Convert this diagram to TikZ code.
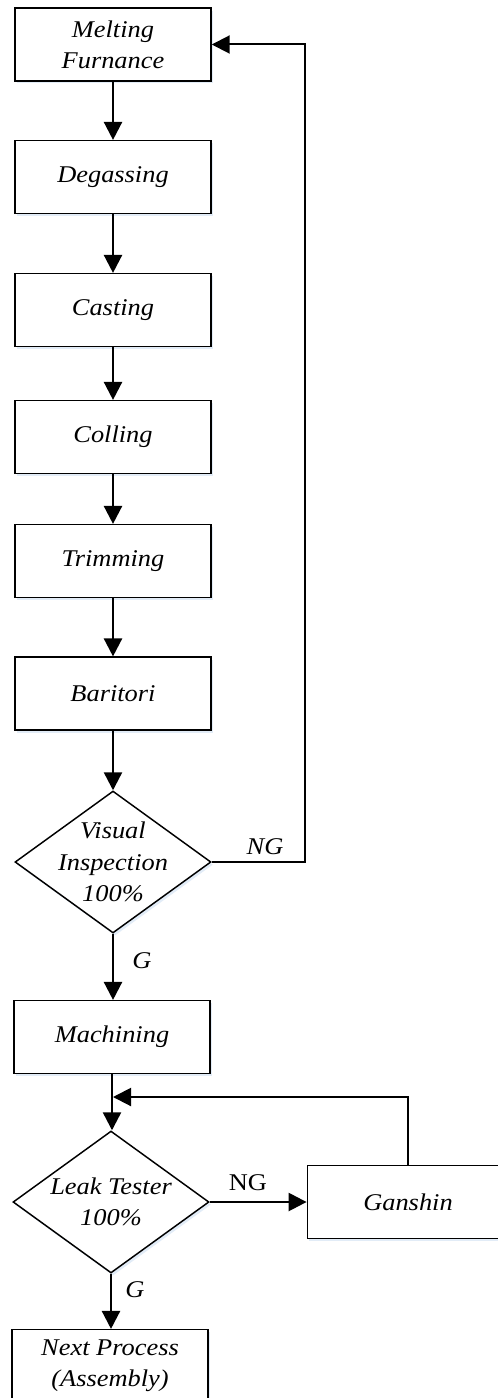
\documentclass[tikz,border=0pt]{standalone}
\usepackage{fontspec}
\setmainfont{Liberation Serif}[FakeStretch=1.1]
\usetikzlibrary{arrows.meta,shapes.geometric,shadows}

\definecolor{haze}{RGB}{214,228,244}

\tikzset{
  txt/.style={font=\fontsize{18}{23.5}\selectfont\itshape, align=center, inner sep=0pt},
  stepbox/.style={draw, line width=1.1pt, fill=white, minimum width=147pt,
    minimum height=54.5pt, inner sep=0pt, txt,
    drop shadow={shadow xshift=1.5pt, shadow yshift=-2pt, fill=haze, opacity=0.7}},
  decision/.style={draw, diamond, line width=1.1pt, fill=white, inner sep=0pt,
    minimum width=147pt, minimum height=106.5pt,
    drop shadow={shadow xshift=1.5pt, shadow yshift=-2pt, fill=haze, opacity=0.7}},
  conn/.style={line width=1.8pt, -{Triangle[length=13.5pt, width=13.5pt]}},
  tag/.style={font=\fontsize{18}{20}\selectfont\itshape, inner sep=0pt},
  uptag/.style={font=\fontsize{18}{20}\selectfont, inner sep=0pt},
}

\begin{document}
\begin{tikzpicture}[x=0.75pt, y=-0.75pt]
  \clip (0,0) rectangle (498,1398);
  \fill[white] (0,0) rectangle (498,1398);

  % main process column
  \node[stepbox] (melt) at (113,44.5)  {Melting\\Furnance};
  \node[stepbox] (degas) at (113,177)  {Degassing};
  \node[stepbox] (cast) at (113,310)   {Casting};
  \node[stepbox] (cool) at (113,437)   {Colling};
  \node[stepbox] (trim) at (113,561)   {Trimming};
  \node[stepbox] (bari) at (113,693.5) {Baritori};

  % visual inspection decision
  \node[decision] (vis) at (113,862) {};
  \node[txt] (vistext) at (vis.center) {Visual\\Inspection\\100\%};

  \node[stepbox] (mach) at (112,1037) {Machining};

  % leak test decision
  \node[decision] (leak) at (111,1202) {};
  \node[txt] (leaktext) at (leak.center) {Leak Tester\\100\%};

  \node[stepbox, minimum width=151pt] (gan) at (408,1202) {Ganshin};
  \node[stepbox] (next) at (110,1366) {Next Process\\(Assembly)};

  % flow connectors
  \draw[conn] (melt.south) -- (degas.north);
  \draw[conn] (degas.south) -- (cast.north);
  \draw[conn] (cast.south) -- (cool.north);
  \draw[conn] (cool.south) -- (trim.north);
  \draw[conn] (trim.south) -- (bari.north);
  \draw[conn] (bari.south) -- (vis.north);
  \draw[conn] (vis.south) -- (vis.south |- mach.north);
  \draw[conn] (mach.south) -- (mach.south |- leak.north);
  \draw[conn] (leak.south) -- (leak.south |- next.north);
  \draw[conn] (leak.east) -- (gan.west);

  % rework loops
  \coordinate (ngturn) at (305,44.5);
  \draw[conn, line width=1.5pt] (vis.east) -| (ngturn) -- (melt.east);
  \coordinate (rejoin) at (113,1097);
  \draw[conn, line width=1.5pt] (gan.north) |- (rejoin);

  % branch labels
  \node[tag] (ngv) at (265,847) {NG};
  \node[tag] (gv) at (142,961) {G};
  \node[uptag] (ngl) at (248,1183) {NG};
  \node[tag] (gl) at (135,1290) {G};
\end{tikzpicture}
\end{document}
